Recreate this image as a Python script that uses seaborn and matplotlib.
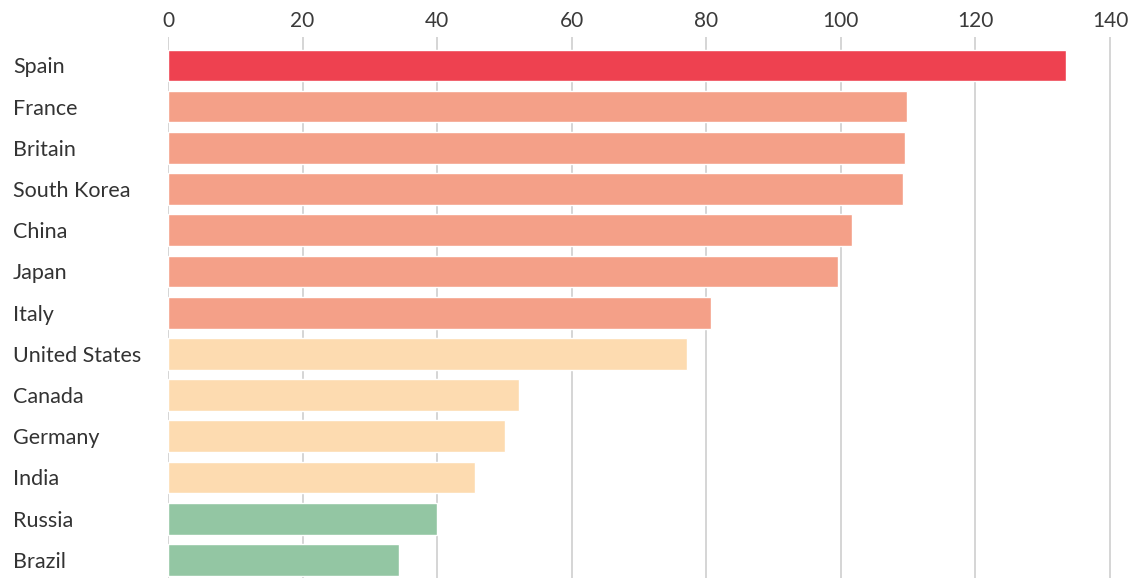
import matplotlib
matplotlib.use("Agg")
import matplotlib.pyplot as plt
import seaborn as sns
import pandas as pd

countries = ["Spain", "France", "Britain", "South Korea", "China", "Japan", "Italy",
             "United States", "Canada", "Germany", "India", "Russia", "Brazil"]
values = [133.4, 109.8, 109.6, 109.2, 101.6, 99.6, 80.7, 77.1, 52.2, 50.1, 45.6, 40.0, 34.3]
groups = ["top", "high", "high", "high", "high", "high", "high",
          "mid", "mid", "mid", "mid", "low", "low"]
group_colors = {"top": "#ee4150", "high": "#f4a088", "mid": "#fddbb0", "low": "#93c6a3"}
xticks = [0, 20, 40, 60, 80, 100, 120, 140]

df = pd.DataFrame({"country": countries, "value": values, "group": groups})

sns.set_theme(style="white")
plt.rcParams["font.family"] = ["Lato", "DejaVu Sans"]

W, H = 1136, 578
fig = plt.figure(figsize=(W / 100, H / 100), dpi=100)
px_per_unit = (1110 - 168) / 140
xmax = 142
ax = fig.add_axes([168 / W, 0, xmax * px_per_unit / W, (H - 37) / H])

sns.barplot(data=df, y="country", x="value", hue="group", palette=group_colors,
            orient="h", width=0.77, dodge=False, legend=False, ax=ax, zorder=2,
            saturation=1)

ax.set_xlim(0, xmax)
ax.set_ylim(12.44, -0.69)
ax.set_xticks(xticks)
ax.xaxis.tick_top()
ax.grid(axis="x", color="#d2d2d2", linewidth=1.3, zorder=0)
ax.grid(axis="y", visible=False)
for s in ax.spines.values():
    s.set_visible(False)
ax.tick_params(axis="x", length=0, pad=4, labelsize=15, labelcolor="#3a3a3a")
ax.tick_params(axis="y", length=0, labelsize=15.5, labelcolor="#333333")
ax.set_xlabel("")
ax.set_ylabel("")
for lbl in ax.get_yticklabels():
    lbl.set_horizontalalignment("left")
# shift the country names to the left margin of the figure
ax.yaxis.set_tick_params(pad=(168 - 13) * 72 / 100)

fig.savefig("out.png", dpi=100, facecolor="white")
